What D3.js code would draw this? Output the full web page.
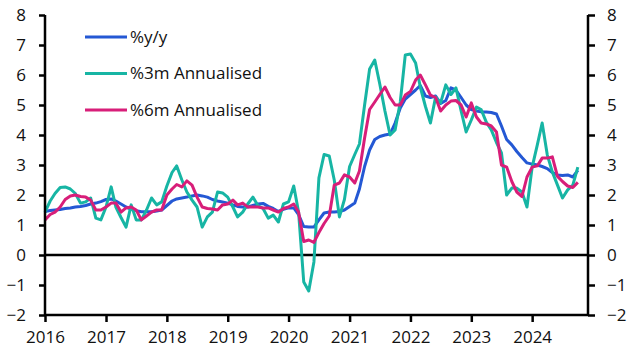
<!DOCTYPE html>
<html lang="en">
<head>
<meta charset="UTF-8">
<title>CPI inflation measures</title>
<script src="https://cdn.jsdelivr.net/npm/d3@7"></script>
<style>
  body { margin: 0; background: #fff; }
  svg text { font-family: "Open Sans", "Noto Sans", sans-serif; font-size: 17px; fill: #111; }
</style>
</head>
<body>
<svg width="632" height="362"></svg>
<script>
// monthly data, Jan 2016 - Oct 2024
var startMonth = new Date(2016, 0, 1);

var yoy = [
  1.45,1.48,1.5,1.52,1.55,1.57,1.6,1.62,1.65,1.7,1.73,1.78,        // 2016
  1.85,1.87,1.8,1.7,1.6,1.53,1.48,1.44,1.44,1.44,1.47,1.5,         // 2017
  1.65,1.8,1.87,1.9,1.93,1.97,2.0,1.97,1.93,1.85,1.8,1.77,         // 2018
  1.73,1.67,1.62,1.6,1.6,1.65,1.7,1.72,1.62,1.55,1.45,1.52,        // 2019
  1.57,1.57,1.35,0.95,0.93,0.93,1.17,1.4,1.43,1.43,1.45,1.5,       // 2020
  1.62,1.73,2.2,2.95,3.5,3.85,3.95,4.0,4.03,4.4,4.9,5.2,           // 2021
  5.35,5.5,5.65,5.3,5.25,5.3,5.05,5.15,5.57,5.5,5.25,5.0,          // 2022
  4.85,4.8,4.77,4.77,4.75,4.7,4.3,3.85,3.67,3.45,3.25,3.07,        // 2023
  3.03,3.0,2.95,2.88,2.75,2.67,2.65,2.67,2.6,2.82                  // 2024
];

var ann3m = [
  1.43,1.8,2.05,2.25,2.27,2.2,2.05,1.73,1.77,1.9,1.23,1.17,
  1.6,2.27,1.6,1.25,0.93,1.67,1.17,1.17,1.5,1.9,1.67,1.77,
  2.3,2.75,2.97,2.5,2.1,1.83,1.6,0.93,1.27,1.43,2.1,2.07,
  1.93,1.6,1.27,1.43,1.7,1.93,1.65,1.55,1.23,1.33,1.1,1.7,
  1.77,2.3,1.43,-0.9,-1.2,-0.23,2.57,3.35,3.3,2.5,1.27,1.85,
  2.95,3.35,3.7,5.0,6.2,6.5,5.7,4.8,4.0,4.17,5.1,6.67,
  6.7,6.4,5.6,4.95,4.4,5.27,5.07,5.67,5.35,5.57,4.8,4.1,
  4.5,4.93,4.85,4.43,4.17,3.75,3.4,2.0,2.23,2.23,2.1,1.6,
  2.93,3.67,4.4,3.33,2.77,2.33,1.9,2.17,2.33,2.93
];

var ann6m = [
  1.17,1.35,1.43,1.6,1.85,1.97,2.0,1.95,1.93,1.83,1.5,1.5,
  1.6,1.73,1.73,1.43,1.57,1.6,1.5,1.17,1.3,1.43,1.5,1.5,
  2.0,2.2,2.35,2.27,2.47,2.33,1.93,1.6,1.55,1.53,1.5,1.67,
  1.7,1.83,1.67,1.73,1.6,1.6,1.6,1.57,1.57,1.5,1.43,1.55,
  1.6,1.7,1.43,0.45,0.5,0.42,0.75,1.05,1.3,2.33,2.4,2.67,
  2.6,2.4,2.8,3.9,4.85,5.1,5.35,5.6,5.25,5.0,5.0,5.33,
  5.45,5.83,6.0,5.67,5.33,5.25,4.8,5.0,5.13,5.15,5.0,4.6,
  5.07,4.6,4.4,4.37,4.3,4.1,3.0,2.93,2.45,2.1,1.95,2.6,
  2.93,2.97,3.23,3.23,3.27,2.62,2.45,2.3,2.25,2.42
];

var seriesNames = ["%y/y", "%3m Annualised", "%6m Annualised"];
var seriesColors = ["#2458d4", "#17b5a4", "#d81e79"];
var yTicks = [-2, -1, 0, 1, 2, 3, 4, 5, 6, 7, 8];
var xYears = [2016, 2017, 2018, 2019, 2020, 2021, 2022, 2023, 2024];

var svg = d3.select("svg");
var plotL = 45, plotR = 588, plotT = 15, plotB = 315;

var x = d3.scaleTime()
    .domain([startMonth, new Date(2024, 11, 1)])
    .range([plotL, plotR]);
var y = d3.scaleLinear()
    .domain([-2, 8])
    .range([plotB, plotT]);

function monthDate(i) { return d3.timeMonth.offset(startMonth, i); }

// zero line
svg.append("line")
    .attr("x1", plotL).attr("x2", plotR)
    .attr("y1", y(0)).attr("y2", y(0))
    .attr("stroke", "#000").attr("stroke-width", 2.5);

var line = d3.line()
    .x(function(d, i) { return x(monthDate(i)); })
    .y(function(d) { return y(d); });

var allSeries = [yoy, ann3m, ann6m];
svg.append("g").selectAll("path")
    .data(allSeries)
    .enter()
    .append("path")
    .attr("d", line)
    .attr("fill", "none")
    .attr("stroke", function(d, i) { return seriesColors[i]; })
    .attr("stroke-width", 3)
    .attr("stroke-linejoin", "round");

// axes
var yLeft = d3.axisLeft(y).tickValues(yTicks).tickSize(6).tickPadding(13).tickFormat(d3.format("d"));
var yRight = d3.axisRight(y).tickValues(yTicks).tickSize(7).tickPadding(12).tickFormat(d3.format("d"));
var xAxis = d3.axisBottom(x)
    .tickValues(xYears.map(function(yr) { return new Date(yr, 0, 1); }))
    .tickSize(7).tickPadding(9)
    .tickFormat(d3.timeFormat("%Y"));

var gl = svg.append("g").attr("transform", "translate(" + plotL + ",0)").call(yLeft);
var gr = svg.append("g").attr("transform", "translate(" + plotR + ",0)").call(yRight);
var gx = svg.append("g").attr("transform", "translate(0," + plotB + ")").call(xAxis);

[gl, gr, gx].forEach(function(g) {
    g.attr("font-family", null).attr("font-size", null);
    g.select(".domain").attr("stroke", "#000").attr("stroke-width", 2.5);
    g.selectAll(".tick line").attr("stroke", "#000").attr("stroke-width", 2.5);
    g.selectAll(".tick text").attr("fill", "#111");
});
gl.select(".domain").attr("d", "M0," + plotT + "V" + plotB);
gr.select(".domain").attr("d", "M0," + plotT + "V" + plotB);
gx.select(".domain").attr("d", "M" + plotL + ",0H" + plotR);

// legend
var legend = svg.append("g").selectAll("g")
    .data(seriesNames)
    .enter()
    .append("g")
    .attr("transform", function(d, i) { return "translate(85," + (37 + i * 36.5) + ")"; });
legend.append("line")
    .attr("x1", 0).attr("x2", 42)
    .attr("stroke", function(d, i) { return seriesColors[i]; })
    .attr("stroke-width", 3);
legend.append("text")
    .attr("x", 45).attr("dy", "0.35em")
    .text(function(d) { return d; });
</script>
</body>
</html>
